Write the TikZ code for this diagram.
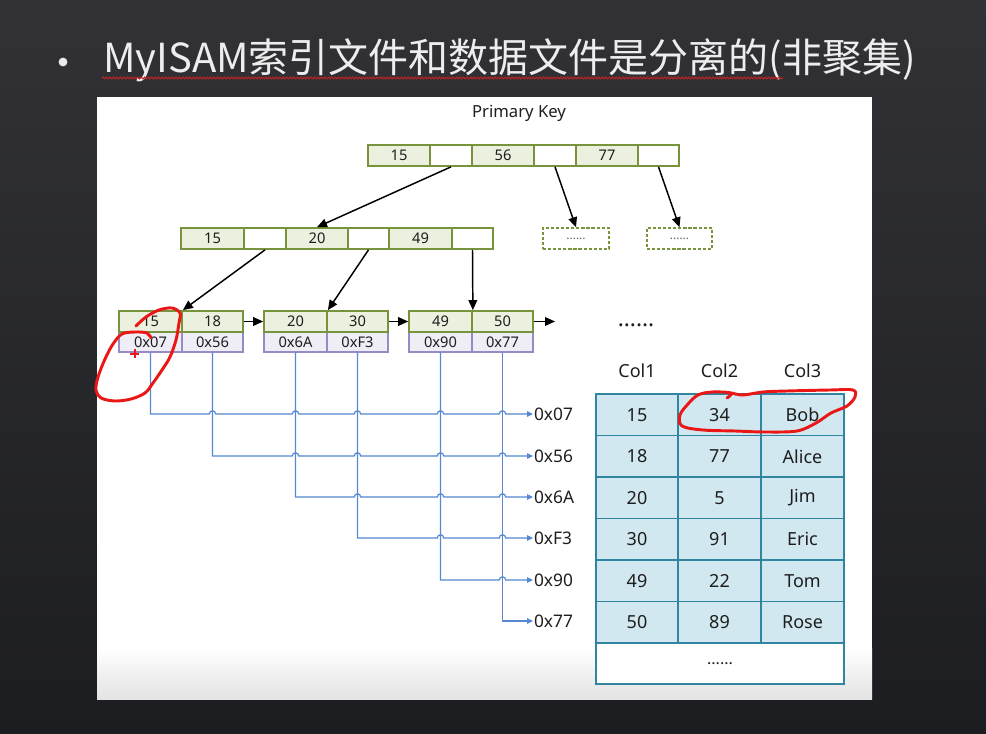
\documentclass[tikz,border=0pt]{standalone}
\usepackage{fontspec}
\setmainfont{Noto Sans}
\newfontfamily\cjkfont{Noto Sans CJK SC}
\usetikzlibrary{arrows.meta,decorations.pathmorphing,calc}

\definecolor{bgtop}{RGB}{50,50,54}
\definecolor{bgbot}{RGB}{28,29,33}
\definecolor{keyfill}{RGB}{235,241,222}
\definecolor{keyline}{RGB}{119,147,60}
\definecolor{ptrfill}{RGB}{239,237,245}
\definecolor{ptrline}{RGB}{152,138,194}
\definecolor{rowfill}{RGB}{210,232,240}
\definecolor{rowline}{RGB}{49,133,160}
\definecolor{linkblue}{RGB}{84,136,210}
\definecolor{inkred}{RGB}{235,22,22}
\definecolor{spellred}{RGB}{185,35,35}
\definecolor{txt}{RGB}{30,30,30}

% a box given by its corners (x1,y1)-(x2,y2), in pixel units
\newcommand\cellat[7]{%
  \node[#6, minimum width={(#4-#2)*0.75pt}, minimum height={(#5-#3)*0.75pt}]
    (#1) at ({(#2+#4)/2},{(#3+#5)/2}) {#7};}
% a small bridge where a pointer line jumps over a vertical line
\newcommand\hop[2]{-- ([xshift=-2.4pt]#1.south |- #2.west)
  arc[start angle=180,end angle=0,radius=2.4pt]}

\tikzset{
  boxbase/.style={inner sep=0pt, text=txt, font=\fontsize{11}{12}\selectfont},
  kcell/.style={boxbase, draw=keyline, fill=keyfill, line width=1.3pt},
  ecell/.style={boxbase, draw=keyline, fill=white, line width=1.3pt},
  pcell/.style={boxbase, draw=ptrline, fill=ptrfill, line width=1.1pt},
  dcell/.style={boxbase, draw=keyline, fill=white, line width=1.1pt,
    dash pattern=on 2.4pt off 1.4pt, text=black!60, font=\fontsize{9}{10}\selectfont},
  tcell/.style={inner sep=0pt, text=txt, draw=rowline, fill=rowfill,
    line width=1.3pt, font=\fontsize{13.5}{15}\selectfont},
  hdr/.style={inner sep=0pt, text=txt, font=\fontsize{13.5}{15}\selectfont},
  lab/.style={anchor=west, inner sep=0.6pt, text=txt, font=\fontsize{13}{15}\selectfont},
  bk/.style={line width=1.1pt, -{Triangle[length=7.5pt,width=6.5pt]}},
  ptr/.style={draw=linkblue, line width=0.9pt, -{Triangle[length=4.5pt,width=4.2pt]}},
  redink/.style={draw=inkred, line width=2.2pt, line cap=round, line join=round},
}

\begin{document}
\begin{tikzpicture}[x=0.75pt,y=-0.75pt]
\useasboundingbox (0,0) rectangle (986,734);

% slide background and white picture panel
\shade[top color=bgtop, bottom color=bgbot] (0,0) rectangle (986,734);
\fill[white] (97,97) rectangle (872,699);
\shade[top color=white, bottom color=black!11] (97,648) rectangle (872,699);

% slide title
\fill[white!92!black] (63,62) circle[radius=4.4];
\node[anchor=base west, inner sep=0pt, text=white!93!black,
  font=\cjkfont\fontsize{30}{34}\selectfont] (title) at (103,73)
  {MyISAM索引文件和数据文件是分离的(非聚集)};
\draw[spellred, line width=0.8pt, decorate,
  decoration={snake, amplitude=0.7pt, segment length=2.6pt}] (102,78) -- (783,78);

% tree heading
\node[anchor=base, inner sep=0pt, text=txt, font=\fontsize{12.5}{14}\selectfont]
  (pk) at (519,118) {Primary Key};

% root node
\cellat{t1}{368}{145}{430}{166}{kcell}{15}
\cellat{t2}{430}{145}{472}{166}{ecell}{}
\cellat{t3}{472}{145}{534}{166}{kcell}{56}
\cellat{t4}{534}{145}{576}{166}{ecell}{}
\cellat{t5}{576}{145}{638}{166}{kcell}{77}
\cellat{t6}{638}{145}{679}{166}{ecell}{}

% inner node and elided siblings
\cellat{m1}{181}{228}{244}{249}{kcell}{15}
\cellat{m2}{244}{228}{286}{249}{ecell}{}
\cellat{m3}{286}{228}{348}{249}{kcell}{20}
\cellat{m4}{348}{228}{389}{249}{ecell}{}
\cellat{m5}{389}{228}{452}{249}{kcell}{49}
\cellat{m6}{452}{228}{493}{249}{ecell}{}
\cellat{d1}{543}{228}{609}{249}{dcell}{......}
\cellat{d2}{647}{228}{712}{249}{dcell}{......}

% leaf nodes: keys on top, row addresses below
\cellat{p1}{119}{332}{182}{352}{pcell}{0x07}
\cellat{p2}{182}{332}{243}{352}{pcell}{0x56}
\cellat{p3}{264}{332}{327}{352}{pcell}{0x6A}
\cellat{p4}{327}{332}{388}{352}{pcell}{0xF3}
\cellat{p5}{409}{332}{472}{352}{pcell}{0x90}
\cellat{p6}{472}{332}{533}{352}{pcell}{0x77}
\cellat{a1}{119}{311}{182}{332}{kcell}{15}
\cellat{a2}{182}{311}{243}{332}{kcell}{18}
\cellat{a3}{264}{311}{327}{332}{kcell}{20}
\cellat{a4}{327}{311}{388}{332}{kcell}{30}
\cellat{a5}{409}{311}{472}{332}{kcell}{49}
\cellat{a6}{472}{311}{533}{332}{kcell}{50}
\coordinate (tail) at (555,321.5);

% tree links
\draw[bk] (t2.south) -- (m3.north);
\draw[bk] (t4.south) -- (d1.north);
\draw[bk] (t6.south) -- (d2.north);
\draw[bk] (m2.south) -- (a1.north east);
\draw[bk] (m4.south) -- (a3.north east);
\draw[bk] (m6.south) -- (a5.north east);
\draw[bk] (a2.east) -- (a3.west);
\draw[bk] (a4.east) -- (a5.west);
\draw[bk] (a6.east) -- (tail);

% row addresses
\node[lab] (l1) at (533,414) {0x07};
\node[lab] (l2) at (533,456) {0x56};
\node[lab] (l3) at (533,497) {0x6A};
\node[lab] (l4) at (533,538) {0xF3};
\node[lab] (l5) at (533,580) {0x90};
\node[lab] (l6) at (533,621) {0x77};

% pointers from leaves to addresses
\draw[ptr] (p1.south) -- (p1.south |- l1.west) \hop{p2}{l1} \hop{p3}{l1}
  \hop{p4}{l1} \hop{p5}{l1} \hop{p6}{l1} -- (l1.west);
\draw[ptr] (p2.south) -- (p2.south |- l2.west) \hop{p3}{l2} \hop{p4}{l2}
  \hop{p5}{l2} \hop{p6}{l2} -- (l2.west);
\draw[ptr] (p3.south) -- (p3.south |- l3.west) \hop{p4}{l3} \hop{p5}{l3}
  \hop{p6}{l3} -- (l3.west);
\draw[ptr] (p4.south) -- (p4.south |- l4.west) \hop{p5}{l4} \hop{p6}{l4} -- (l4.west);
\draw[ptr] (p5.south) -- (p5.south |- l5.west) \hop{p6}{l5} -- (l5.west);
\draw[ptr] (p6.south) -- (p6.south |- l6.west) -- (l6.west);

% data file
\node[inner sep=0pt, text=txt, font=\bfseries\fontsize{17}{18}\selectfont] (more) at (636,325) {......};
\node[hdr] (h1) at (637,371) {Col1};
\node[hdr] (h2) at (719.5,371) {Col2};
\node[hdr] (h3) at (802.5,371) {Col3};
\foreach \ca/\cb/\cc [count=\i] in {15/34/Bob,18/77/Alice,20/5/Jim,30/91/Eric,49/22/Tom,50/89/Rose}{
  \pgfmathsetmacro\ya{394+(\i-1)*41.5}
  \pgfmathsetmacro\yb{\ya+41.5}
  \cellat{r\i-1}{596}{\ya}{678}{\yb}{tcell}{\ca}
  \cellat{r\i-2}{678}{\ya}{761}{\yb}{tcell}{\cb}
  \cellat{r\i-3}{761}{\ya}{844}{\yb}{tcell}{\cc}
}
\cellat{rlast}{596}{643}{844}{684}{tcell, fill=white, font=\fontsize{12}{13}\selectfont}{......}

% hand-drawn marks
\draw[redink] plot[smooth, tension=0.55] coordinates {
  (151,338) (147,333) (135,332) (122,334) (113,344) (105,359) (98,377) (96,390)
  (101,398) (115,401) (131,399) (145,393) (153,383) (162,370) (170,357)
  (176,340) (179,323) (180,313) (172,308) (159,310) (146,317) (136,326)};
\draw[inkred, line width=1.5pt] (130,354) -- (139,354) (134.5,349.5) -- (134.5,358.5);
\draw[redink] plot[smooth, tension=0.55] coordinates {
  (727,398) (731,393) (712,392) (698,395) (688,404) (680,415) (682,426)
  (703,430) (735,431) (765,432) (797,431) (816,423) (831,413) (847,406)
  (855,397) (853,390) (830,390) (787,391) (763,392) (743,395) (732,393)};
\end{tikzpicture}
\end{document}
